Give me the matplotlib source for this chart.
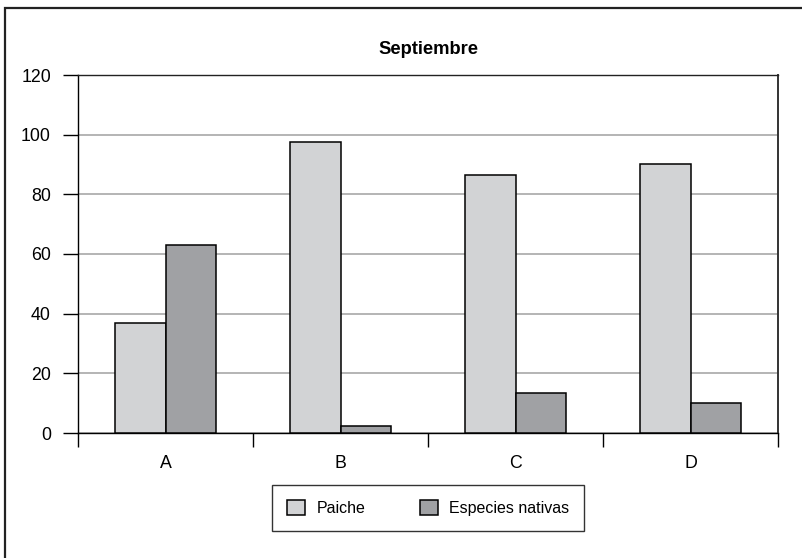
import matplotlib
matplotlib.use("Agg")
import matplotlib.pyplot as plt
from matplotlib.patches import Rectangle
import numpy as np

plt.rcParams['font.family'] = ['Liberation Sans', 'DejaVu Sans']

categories = ["A", "B", "C", "D"]
paiche = [37, 97.6, 86.5, 90.3]
nativas = [63, 2.4, 13.5, 10.2]
series_names = ["Paiche", "Especies nativas"]
y_ticks = [0, 20, 40, 60, 80, 100, 120]

light = "#d2d3d5"
dark = "#a0a1a4"

fig = plt.figure(figsize=(8.02, 5.58), dpi=100)
ax = fig.add_axes([78 / 802, 1 - 433 / 558, 700 / 802, 358 / 558])

x = np.arange(len(categories))
w = 0.286
ax.bar(x - w / 2, paiche, w, color=light, edgecolor="black", linewidth=1.1,
       label=series_names[0], zorder=3)
ax.bar(x + w / 2, nativas, w, color=dark, edgecolor="black", linewidth=1.1,
       label=series_names[1], zorder=3)

ax.set_xlim(-0.5, len(categories) - 0.5)
ax.set_ylim(0, 120)
ax.set_yticks(y_ticks)
ax.set_yticklabels([str(t) for t in y_ticks], fontsize=12.8)
ax.yaxis.grid(True, color="#b4b4b4", linewidth=1.4, zorder=0)
ax.set_axisbelow(True)

# category labels sit between the boundary ticks
ax.set_xticks(x)
ax.set_xticklabels(categories, fontsize=12.8)
ax.tick_params(axis="x", length=0, pad=16)
ax.set_xticks(np.arange(-0.5, len(categories)), minor=True)
ax.tick_params(axis="x", which="minor", length=10, width=1.0, color="black")
ax.tick_params(axis="y", length=11, width=1.0, color="black", pad=8.5)

for s in ["left", "bottom", "top"]:
    ax.spines[s].set_color("black")
    ax.spines[s].set_linewidth(1.0)
ax.spines["right"].set_color("#333333")
ax.spines["right"].set_linewidth(1.4)
ax.spines["top"].set_color("#222222")

ax.set_title("Septiembre", fontsize=13.2, fontweight="bold", pad=15)

leg = fig.legend(loc="center", bbox_to_anchor=(428 / 802, 1 - 508 / 558),
                 ncol=2, frameon=True, fancybox=False, fontsize=11.5,
                 handlelength=1.13, handleheight=1.1, columnspacing=3.4,
                 borderpad=0.95, handletextpad=0.7, borderaxespad=0,
                 edgecolor="black")
leg.get_frame().set_linewidth(1.0)

# outer frame around the whole chart
fig.patches.append(Rectangle((4.5 / 802, -0.1), 1.2, 1.1 - 8.5 / 558,
                             transform=fig.transFigure, fill=False,
                             edgecolor="#222222", linewidth=1.6))

fig.savefig("out.png", dpi=100)
